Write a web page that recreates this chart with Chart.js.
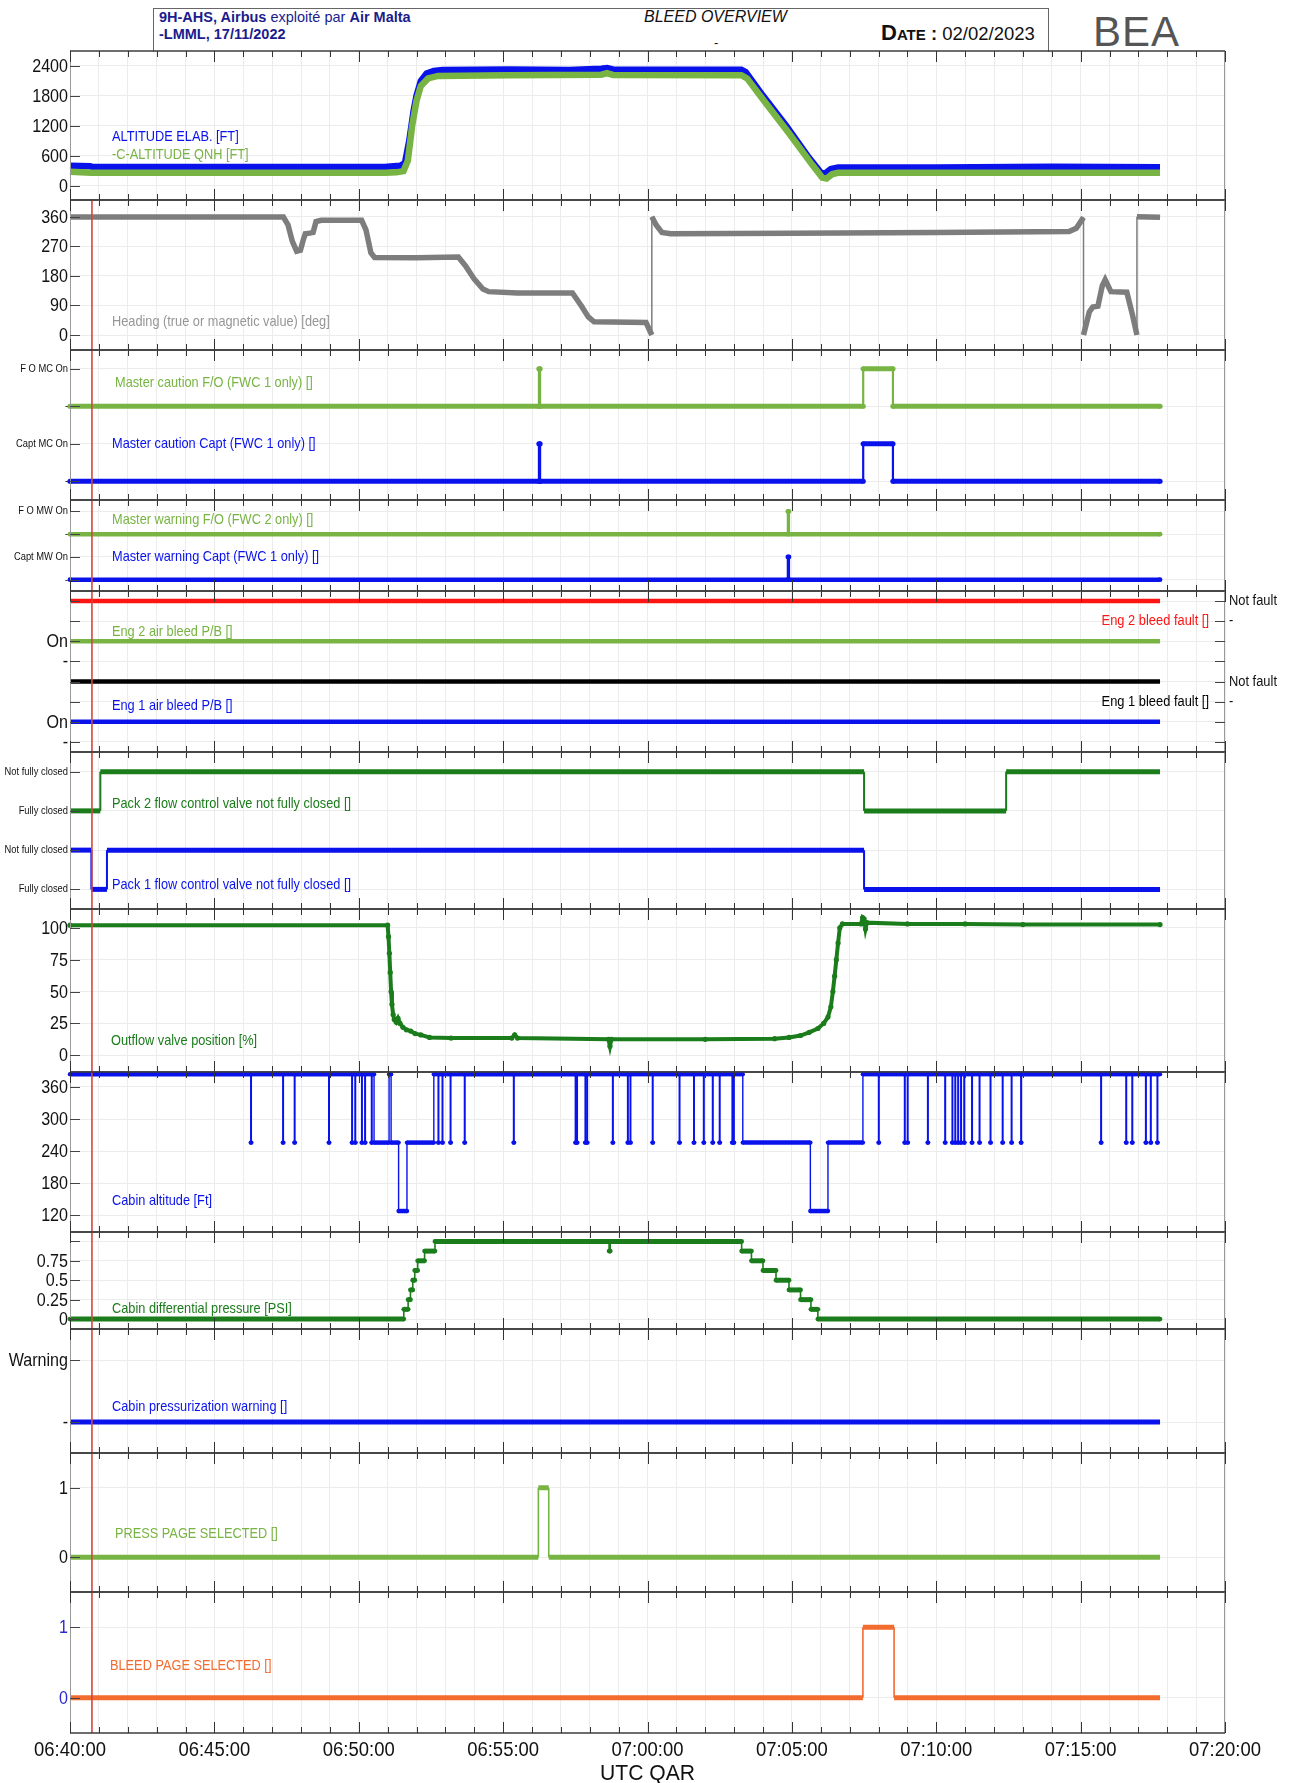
<!DOCTYPE html>
<html>
<head>
<meta charset="utf-8">
<script src="https://cdn.jsdelivr.net/npm/chart.js@4.4.1/dist/chart.umd.min.js"></script>
<style>
body { margin: 0; background: #fff; width: 1289px; height: 1783px; position: relative; overflow: hidden; font-family: "Liberation Sans", Arial, sans-serif; }
canvas { position: absolute; left: 0; }
#hdr { position: absolute; left: 153px; top: 8px; width: 894px; height: 43px; border: 1px solid #666; border-bottom: none; color: #1c1c8c; }
#hdr div { position: absolute; white-space: nowrap; }
.t1 { left: 5px; top: 0px; font-size: 14.5px; }
.t2 { left: 5px; top: 17px; font-size: 14.5px; }
.t3 { left: 490px; top: -1px; font-size: 16px; font-style: italic; color: #111; }
.t4 { left: 560px; top: 26px; font-size: 13px; color: #111; }
.t5 { left: 727px; top: 11px; font-size: 18.5px; color: #111; }
.t5 .sc { font-variant: small-caps; font-size: 22px; }
#bea { position: absolute; left: 1093px; top: 8px; font-size: 42px; color: #555; letter-spacing: 1px; }
</style>
</head>
<body>
<div id="hdr">
  <div class="t1"><b>9H-AHS, Airbus</b> exploité par <b>Air Malta</b></div>
  <div class="t2"><b>-LMML, 17/11/2022</b></div>
  <div class="t3">BLEED OVERVIEW</div>
  <div class="t4">-</div>
  <div class="t5"><b class="sc">Date</b> <b>:</b> 02/02/2023</div>
</div>
<div id="bea">BEA</div>

<script>
// time axis: minutes after 06:40:00 UTC
const xTickMinutes = [0, 5, 10, 15, 20, 25, 30, 35, 40];
const xTickLabels = ['06:40:00', '06:45:00', '06:50:00', '06:55:00', '07:00:00', '07:05:00', '07:10:00', '07:15:00', '07:20:00'];
const markerTime = 0.76;
const dataEnd = 37.75;

// continuous series, [minute, value]
const altElab = [[0,395],[0.7,385],[0.8,370],[10.9,370],[11.2,385],[11.45,400],[11.6,450],[11.75,900],[11.9,1500],[12.0,1800],[12.15,2100],[12.35,2250],[12.6,2300],[12.9,2320],[15.2,2330],[17.3,2320],[18.4,2345],[18.6,2360],[18.8,2330],[20,2325],[23.25,2325],[23.4,2280],[24.0,1800],[24.8,1200],[25.6,550],[26.0,260],[26.15,240],[26.35,330],[26.6,360],[30,360],[34,378],[37.75,365]];
const altQnh = [[0,275],[0.75,255],[10.9,255],[11.3,265],[11.55,290],[11.7,500],[11.85,1200],[12.0,1700],[12.15,2000],[12.4,2150],[12.75,2200],[15.2,2215],[18.4,2225],[18.6,2255],[18.8,2220],[23.25,2215],[23.45,2150],[24.1,1650],[24.9,1050],[25.7,420],[26.05,160],[26.2,140],[26.4,230],[26.6,255],[37.75,255]];
const heading = [[0,359],[7.39,359],[7.55,335],[7.7,285],[7.85,255],[7.98,258],[8.08,290],[8.15,308],[8.3,310],[8.42,312],[8.52,345],[8.7,349],[10.1,349],[10.25,320],[10.42,250],[10.55,236],[12,235],[13.45,237],[13.7,210],[14.0,170],[14.3,140],[14.5,132],[15.5,128],[17.4,128],[17.7,90],[17.95,55],[18.15,40],[19.95,38],[20.15,0],[20.15,360],[20.3,335],[20.5,312],[20.8,308],[25,310],[30,312],[34.6,315],[34.85,325],[35.1,358],[35.1,0],[35.3,70],[35.42,85],[35.6,88],[35.75,150],[35.85,168],[35.95,150],[36.05,132],[36.6,130],[36.8,60],[36.95,0],[36.95,360],[37.75,358]];
const outflow = [[0,102],[11.0,102],[11.03,93],[11.06,80],[11.09,65],[11.12,50],[11.15,40],[11.19,32],[11.23,28],[11.3,26],[11.36,29],[11.43,25],[11.53,22],[11.65,20],[11.8,19],[11.95,17],[12.15,16],[12.45,14],[13.2,13.5],[15.3,13.5],[15.4,16],[15.5,13.5],[18.65,12.5],[18.7,7],[18.75,12.5],[22,12.5],[24.4,13],[24.9,14],[25.3,15.5],[25.6,18],[25.9,21],[26.1,25],[26.25,30],[26.35,38],[26.42,50],[26.48,62],[26.54,75],[26.6,88],[26.66,100],[26.75,103],[27.4,103],[27.45,108],[27.5,107],[27.55,99],[27.6,104],[29,103],[31,103],[33,102.5],[37.75,102.5]];

// discrete series, [minute, new state]
const mcFo = [[0,0],[16.24,1],[16.28,0],[27.47,1],[28.5,0]];
const mcCapt = [[0,0],[16.24,1],[16.28,0],[27.47,1],[28.5,0]];
const mwFo = [[0,0],[24.86,1],[24.9,0]];
const mwCapt = [[0,0],[24.86,1],[24.9,0]];
const eng2Fault = [[0,1]];
const eng2Pb = [[0,1]];
const eng1Fault = [[0,1]];
const eng1Pb = [[0,1]];
const pack2 = [[0,0],[1.05,1],[27.5,0],[32.42,1]];
const pack1 = [[0,1],[0.74,0],[1.28,1],[27.5,0]];
const cabinAltLevels = [[0,384],[10.53,256],[11.05,384],[11.12,256],[11.38,128],[11.67,256],[12.6,384],[23.3,256],[25.64,128],[26.25,256],[27.46,384]];
const cabinAltDips = [6.26,7.37,7.77,8.96,9.76,9.87,10.1,10.21,10.44,12.75,12.89,13.17,13.66,15.36,17.5,17.55,17.84,17.9,18.79,19.31,19.4,20.17,21.1,21.6,21.94,22.25,22.49,22.93,22.98,28.0,28.9,29.0,29.7,30.3,30.55,30.65,30.75,30.85,30.96,31.23,31.49,31.87,32.29,32.6,32.93,35.7,36.57,36.78,37.25,37.42,37.65];
const cabinDiff = [[0,0],[11.56,0.125],[11.71,0.25],[11.79,0.375],[11.87,0.5],[11.94,0.625],[12.04,0.75],[12.28,0.875],[12.64,1],[18.67,0.875],[18.71,1],[23.26,0.875],[23.6,0.75],[24.0,0.625],[24.45,0.5],[24.9,0.375],[25.3,0.25],[25.66,0.125],[25.9,0]];
const cabinWarn = [[0,0]];
const pressPage = [[0,0],[16.22,1],[16.58,0]];
const bleedPage = [[0,0],[27.46,1],[28.54,0]];

const C = {
  blue: '#0a12ec', lgreen: '#78b443', dgreen: '#1b7c1b', gray: '#7d7d7d',
  red: '#ff1414', black: '#000', orange: '#f26b2f', marker: '#d4463c'
};

function stepPoints(steps, end, offset) {
  const out = [];
  steps.forEach((s, i) => {
    const next = i + 1 < steps.length ? steps[i + 1][0] : end;
    out.push([s[0], s[1] + offset], [next, s[1] + offset]);
  });
  return out;
}

function withDips(levels, dips, low, w) {
  const ev = levels.map(s => [s[0], s[1]]);
  dips.forEach(d => {
    const lvl = levels.filter(s => s[0] <= d).pop()[1];
    ev.push([d, low], [d + w, lvl]);
  });
  return ev.sort((a, b) => a[0] - b[0]);
}

function set(points, color, thick, thin, radius) {
  return {
    data: points.map(p => ({ x: p[0], y: p[1] })),
    borderColor: color, backgroundColor: color,
    borderWidth: thick, pointRadius: radius || 0, pointBorderWidth: 0,
    tension: 0, fill: false, clip: 6,
    segment: { borderWidth: c => c.p0.parsed.x === c.p1.parsed.x ? thin : thick }
  };
}

const small = { size: 10.4, narrow: 0.9 };
const big = { size: 18.5, narrow: 0.87 };
const lab = { size: 14.5, narrow: 0.88 };

const panels = [
  { top: 51, bottom: 200, yMin: -290, yMax: 2700, marker: false,
    yTicks: [[0,'0'],[600,'600'],[1200,'1200'],[1800,'1800'],[2400,'2400']], tickFont: big,
    sets: [set(altQnh, C.lgreen, 6.5, 2), set(altElab, C.blue, 6.5, 2)],
    labels: [{ text: 'ALTITUDE ELAB. [FT]', v: 975, color: C.blue },
             { text: '-C-ALTITUDE QNH [FT]', v: 614, color: C.lgreen }] },
  { top: 200, bottom: 350, yMin: -45.6, yMax: 410.8,
    yTicks: [[0,'0'],[90,'90'],[180,'180'],[270,'270'],[360,'360']], tickFont: big,
    sets: [set(heading, C.gray, 5.5, 1.5)],
    labels: [{ text: 'Heading (true or magnetic value) [deg]', v: 40, color: '#969696' }] },
  { top: 350, bottom: 500, yMin: -0.5, yMax: 3.5,
    yTicks: [[0,'-'],[1,'Capt MC On'],[2,'-'],[3,'F O MC On']], tickFont: small,
    sets: [set(stepPoints(mcFo, dataEnd, 2), C.lgreen, 5, 2.2, 2.6), set(stepPoints(mcCapt, dataEnd, 0), C.blue, 5, 2.2, 2.6)],
    labels: [{ text: 'Master caution F/O (FWC 1 only) []', v: 2.61, dx: 45, color: C.lgreen },
             { text: 'Master caution Capt (FWC 1 only) []', v: 1.0, color: C.blue }] },
  { top: 500, bottom: 591, yMin: -0.5, yMax: 3.5,
    yTicks: [[0,'-'],[1,'Capt MW On'],[2,'-'],[3,'F O MW On']], tickFont: small,
    sets: [set(stepPoints(mwFo, dataEnd, 2), C.lgreen, 4.5, 2.2, 2.4), set(stepPoints(mwCapt, dataEnd, 0), C.blue, 4.5, 2.2, 2.4)],
    labels: [{ text: 'Master warning F/O (FWC 2 only) []', v: 2.6, color: C.lgreen },
             { text: 'Master warning Capt (FWC 1 only) []', v: 1.0, color: C.blue }] },
  { top: 591, bottom: 752, yMin: -0.5, yMax: 7.5,
    yTicks: [[0,'-'],[1,'On'],[2,''],[3,''],[4,'-'],[5,'On'],[6,''],[7,'']], tickFont: big,
    rTicks: [[0,''],[1,''],[2,'-'],[3,'Not fault'],[4,''],[5,''],[6,'-'],[7,'Not fault']], rFont: { size: 14, narrow: 0.92 },
    sets: [set(stepPoints(eng2Fault, dataEnd, 6), C.red, 4.5, 2), set(stepPoints(eng2Pb, dataEnd, 4), C.lgreen, 4.5, 2),
           set(stepPoints(eng1Fault, dataEnd, 2), C.black, 4.5, 2), set(stepPoints(eng1Pb, dataEnd, 0), C.blue, 4.5, 2)],
    labels: [{ text: 'Eng 2 air bleed P/B []', v: 5.46, color: C.lgreen },
             { text: 'Eng 1 air bleed P/B []', v: 1.8, color: C.blue },
             { text: 'Eng 2 bleed fault []', v: 6, right: 16, color: C.red, size: 14, narrow: 0.92, align: 'right' },
             { text: 'Eng 1 bleed fault []', v: 2, right: 16, color: C.black, size: 14, narrow: 0.92, align: 'right' }] },
  { top: 752, bottom: 909, yMin: -0.5, yMax: 3.5,
    yTicks: [[0,'Fully closed'],[1,'Not fully closed'],[2,'Fully closed'],[3,'Not fully closed']], tickFont: small,
    sets: [set(stepPoints(pack2, dataEnd, 2), C.dgreen, 5, 2), set(stepPoints(pack1, dataEnd, 0), C.blue, 5, 2)],
    labels: [{ text: 'Pack 2 flow control valve not fully closed []', v: 2.18, color: C.dgreen },
             { text: 'Pack 1 flow control valve not fully closed []', v: 0.1, color: C.blue }] },
  { top: 909, bottom: 1072, yMin: -13.1, yMax: 114.7,
    yTicks: [[0,'0'],[25,'25'],[50,'50'],[75,'75'],[100,'100']], tickFont: big,
    sets: [set(outflow, C.dgreen, 4, 2, 2.6)],
    labels: [{ text: 'Outflow valve position [%]', v: 11.2, dx: 41, color: C.dgreen }] },
  { top: 1072, bottom: 1232, yMin: 88.8, yMax: 388,
    yTicks: [[120,'120'],[180,'180'],[240,'240'],[300,'300'],[360,'360']], tickFont: big,
    sets: [set(stepPoints(withDips(cabinAltLevels, cabinAltDips, 256, 0.02), dataEnd, 0), C.blue, 4.5, 1.4, 2.2)],
    labels: [{ text: 'Cabin altitude [Ft]', v: 146, dx: 42, color: C.blue }] },
  { top: 1232, bottom: 1329, yMin: -0.128, yMax: 1.121,
    yTicks: [[0,'0'],[0.25,'0.25'],[0.5,'0.5'],[0.75,'0.75'],[1,'']], tickFont: big,
    sets: [set(stepPoints(cabinDiff, dataEnd, 0), C.dgreen, 5, 1.6, 2.4)],
    labels: [{ text: 'Cabin differential pressure [PSI]', v: 0.13, color: C.dgreen }] },
  { top: 1329, bottom: 1453, yMin: -0.5, yMax: 1.5,
    yTicks: [[0,'-'],[1,'Warning']], tickFont: big,
    sets: [set(stepPoints(cabinWarn, dataEnd, 0), C.blue, 5, 2)],
    labels: [{ text: 'Cabin pressurization warning []', v: 0.24, color: C.blue }] },
  { top: 1453, bottom: 1592, yMin: -0.5, yMax: 1.5,
    yTicks: [[0,'0'],[1,'1']], tickFont: big,
    sets: [set(stepPoints(pressPage, dataEnd, 0), C.lgreen, 5, 1.6)],
    labels: [{ text: 'PRESS PAGE SELECTED []', v: 0.33, dx: 45, color: C.lgreen }] },
  { top: 1592, bottom: 1733, yMin: -0.5, yMax: 1.5, xAxis: true,
    yTicks: [[0,'0'],[1,'1']], tickFont: Object.assign({ color: '#2a2ad0' }, big),
    sets: [set(stepPoints(bleedPage, dataEnd, 0), C.orange, 5, 1.6)],
    labels: [{ text: 'BLEED PAGE SELECTED []', v: 0.45, dx: 40, color: C.orange }] }
];

function txt(ctx, s, x, y, o) {
  ctx.save();
  ctx.font = (o.bold ? 'bold ' : '') + (o.size || 12) + 'px "Liberation Sans", Arial, sans-serif';
  ctx.fillStyle = o.color || '#111';
  ctx.textBaseline = 'middle';
  ctx.textAlign = o.align || 'left';
  ctx.translate(x, y);
  ctx.scale(o.narrow || 1, 1);
  ctx.fillText(s, 0, 0);
  ctx.restore();
}

function seg(ctx, x1, y1, x2, y2) {
  ctx.beginPath(); ctx.moveTo(x1, y1); ctx.lineTo(x2, y2); ctx.stroke();
}

const framePlugin = {
  id: 'frame',
  afterDatasetsDraw(chart, args, p) {
    const { ctx, chartArea: a, scales: { x, y } } = chart;
    ctx.save();
    if (p.marker !== false) {
      const mx = x.getPixelForValue(markerTime);
      ctx.strokeStyle = C.marker; ctx.lineWidth = 1.6;
      seg(ctx, mx, a.top, mx, a.bottom);
    }
    ctx.strokeStyle = '#9a9a9a'; ctx.lineWidth = 1;
    seg(ctx, a.left + 0.5, a.top, a.left + 0.5, a.bottom);
    seg(ctx, a.right - 0.5, a.top, a.right - 0.5, a.bottom);
    ctx.strokeStyle = '#3c3c3c'; ctx.lineWidth = 1.3;
    seg(ctx, a.left, a.top, a.right, a.top);
    seg(ctx, a.left, a.bottom, a.right, a.bottom);
    ctx.lineWidth = 1; ctx.strokeStyle = '#333';
    for (let m = 0; m <= 40; m++) {
      const px = Math.round(x.getPixelForValue(m)) + 0.5;
      const len = m % 5 === 0 ? 11 : 6;
      seg(ctx, px, a.top, px, a.top + len);
      seg(ctx, px, a.bottom - len, px, a.bottom);
    }
    p.yTicks.forEach(([v, t]) => {
      const py = Math.round(y.getPixelForValue(v)) + 0.5;
      ctx.strokeStyle = '#444';
      seg(ctx, a.left, py, a.left + 10, py);
      if (t) txt(ctx, t, a.left - 2, py, Object.assign({ align: 'right' }, p.tickFont));
    });
    (p.rTicks || []).forEach(([v, t]) => {
      const py = Math.round(y.getPixelForValue(v)) + 0.5;
      ctx.strokeStyle = '#444';
      seg(ctx, a.right - 10, py, a.right, py);
      if (t) txt(ctx, t, a.right + 4, py, p.rFont);
    });
    p.labels.forEach(l => {
      const lx = l.align === 'right' ? a.right - l.right : a.left + (l.dx || 42);
      txt(ctx, l.text, lx, y.getPixelForValue(l.v), Object.assign({}, lab, l));
    });
    if (p.xAxis) {
      xTickMinutes.forEach((m, i) => {
        txt(ctx, xTickLabels[i], x.getPixelForValue(m), a.bottom + 17, { size: 20.5, narrow: 0.9, align: 'center', color: '#111' });
      });
      txt(ctx, 'UTC QAR', (a.left + a.right) / 2, a.bottom + 41, { size: 22, narrow: 0.96, align: 'center', color: '#111' });
    }
    ctx.restore();
  }
};

panels.forEach(p => {
  const pad = 6;
  const cv = document.createElement('canvas');
  const top = p.top - pad;
  const h = p.xAxis ? 1783 - top : (p.bottom - p.top) + 2 * pad;
  cv.width = 1289; cv.height = h;
  cv.style.top = top + 'px';
  cv.style.width = '1289px'; cv.style.height = h + 'px';
  document.body.appendChild(cv);
  new Chart(cv, {
    type: 'line',
    data: { datasets: p.sets },
    options: {
      responsive: false, animation: false, devicePixelRatio: 1,
      layout: { padding: { top: pad, bottom: p.xAxis ? 0 : pad, left: 0, right: 64 } },
      plugins: { legend: { display: false }, tooltip: { enabled: false }, frame: p },
      scales: {
        x: {
          type: 'linear', min: 0, max: 40,
          afterBuildTicks: s => { s.ticks = []; for (let m = 0; m <= 40; m++) s.ticks.push({ value: m }); },
          afterFit: s => { s.height = p.xAxis ? 50 : 0; },
          ticks: { display: false },
          grid: { color: '#ececec', drawTicks: false },
          border: { display: false }
        },
        y: {
          type: 'linear', min: p.yMin, max: p.yMax,
          afterBuildTicks: s => { s.ticks = p.yTicks.map(t => ({ value: t[0] })); },
          afterFit: s => { s.width = 70; },
          ticks: { display: false },
          grid: { color: '#ececec', drawTicks: false },
          border: { display: false }
        }
      }
    },
    plugins: [framePlugin]
  });
});
</script>
</body>
</html>
